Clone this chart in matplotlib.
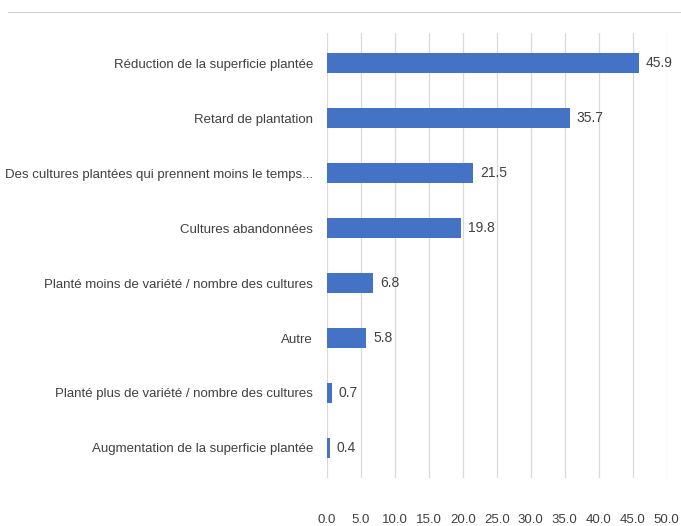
import matplotlib.pyplot as plt
from matplotlib.lines import Line2D

categories = [
    'Réduction de la superficie plantée',
    'Retard de plantation',
    'Des cultures plantées qui prennent moins le temps...',
    'Cultures abandonnées',
    'Planté moins de variété / nombre des cultures',
    'Autre',
    'Planté plus de variété / nombre des cultures',
    'Augmentation de la superficie plantée',
]
values = [45.9, 35.7, 21.5, 19.8, 6.8, 5.8, 0.7, 0.4]
xticks = [0, 5, 10, 15, 20, 25, 30, 35, 40, 45, 50]

plt.rcParams['font.family'] = ['Liberation Sans', 'DejaVu Sans']
txt = '#404040'
fs = 9.5

fig = plt.figure(figsize=(6.81, 5.26), dpi=100)
ax = fig.add_axes([0.480, 0.091, 0.499, 0.846])

ypos = list(range(len(categories)))[::-1]
ax.barh(ypos, values, height=0.36, color='#4472C4', zorder=3)
for y, v in zip(ypos, values):
    ax.text(v + 1.0, y, f'{v:.1f}', va='center', ha='left', fontsize=10, color=txt)

ax.set_xlim(0, 50)
ax.set_ylim(-0.55, 7.55)
ax.set_xticks(xticks)
ax.set_xticklabels([f'{t:.1f}' for t in xticks], fontsize=fs, color=txt)
ax.set_yticks(ypos)
ax.set_yticklabels(categories, fontsize=fs, color=txt)
ax.tick_params(axis='both', length=0)
ax.tick_params(axis='x', pad=26)
ax.tick_params(axis='y', pad=10)
ax.grid(axis='x', color='#d9d9d9', linewidth=0.9, zorder=0)
for s in ax.spines.values():
    s.set_visible(False)

# thin grey rule near the top of the image
fig.add_artist(Line2D([0.012, 1.0], [0.978, 0.978], transform=fig.transFigure,
                      color='#d0d0d0', linewidth=0.8))

plt.savefig('out.png', dpi=100)
